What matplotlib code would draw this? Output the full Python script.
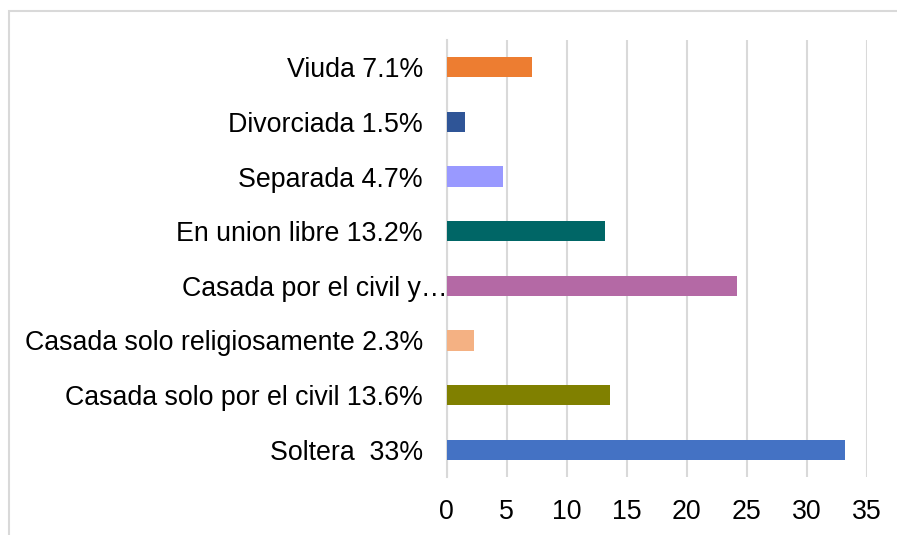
import matplotlib.pyplot as plt
import matplotlib.transforms as mtransforms
from matplotlib.patches import Rectangle

plt.rcParams['font.family'] = ['Liberation Sans', 'DejaVu Sans']

categories = ["Soltera  33%", "Casada solo por el civil 13.6%",
              "Casada solo religiosamente 2.3%", "Casada por el civil y\u2026",
              "En union libre 13.2%", "Separada 4.7%", "Divorciada 1.5%",
              "Viuda 7.1%"]
values = [33.2, 13.6, 2.3, 24.2, 13.2, 4.7, 1.5, 7.1]
colors = ["#4472C4", "#808000", "#F4B183", "#B469A5",
          "#006666", "#9999FF", "#2F5597", "#ED7D31"]
xticks = [0, 5, 10, 15, 20, 25, 30, 35]

W, H = 897, 535
fig = plt.figure(figsize=(W / 100, H / 100), dpi=100)
fig.patches.append(Rectangle((9 / W, -0.1), 1.2, 1 - 11 / H + 0.1,
                             transform=fig.transFigure, fill=False,
                             edgecolor="#D9D9D9", linewidth=1.5))

ax = fig.add_axes([446.5 / W, 1 - 477 / H, (867 - 446.5) / W, (477 - 40) / H])
ypos = list(range(len(categories)))
ax.barh(ypos, values, height=0.37, color=colors, zorder=3)

ax.set_xlim(0, 35)
ax.set_ylim(-0.5, len(categories) - 0.5)
ax.set_xticks(xticks)
ax.set_yticks(ypos)
ax.set_yticklabels(categories)
ax.tick_params(axis='both', length=0, labelsize=19.3, colors="black")
ax.tick_params(axis='y', pad=17)
ax.tick_params(axis='x', pad=16)

ax.grid(axis='x', color="#D9D9D9", linewidth=1.5, zorder=0)
for s in ["top", "right", "bottom"]:
    ax.spines[s].set_visible(False)
ax.spines["left"].set_color("#D9D9D9")
ax.spines["left"].set_linewidth(1.5)

# the truncated label sits closer to the axis
lab = ax.get_yticklabels()[3]
lab.set_transform(lab.get_transform() +
                  mtransforms.ScaledTranslation(25 / 100, 0, fig.dpi_scale_trans))

fig.savefig("out.png", dpi=100)
